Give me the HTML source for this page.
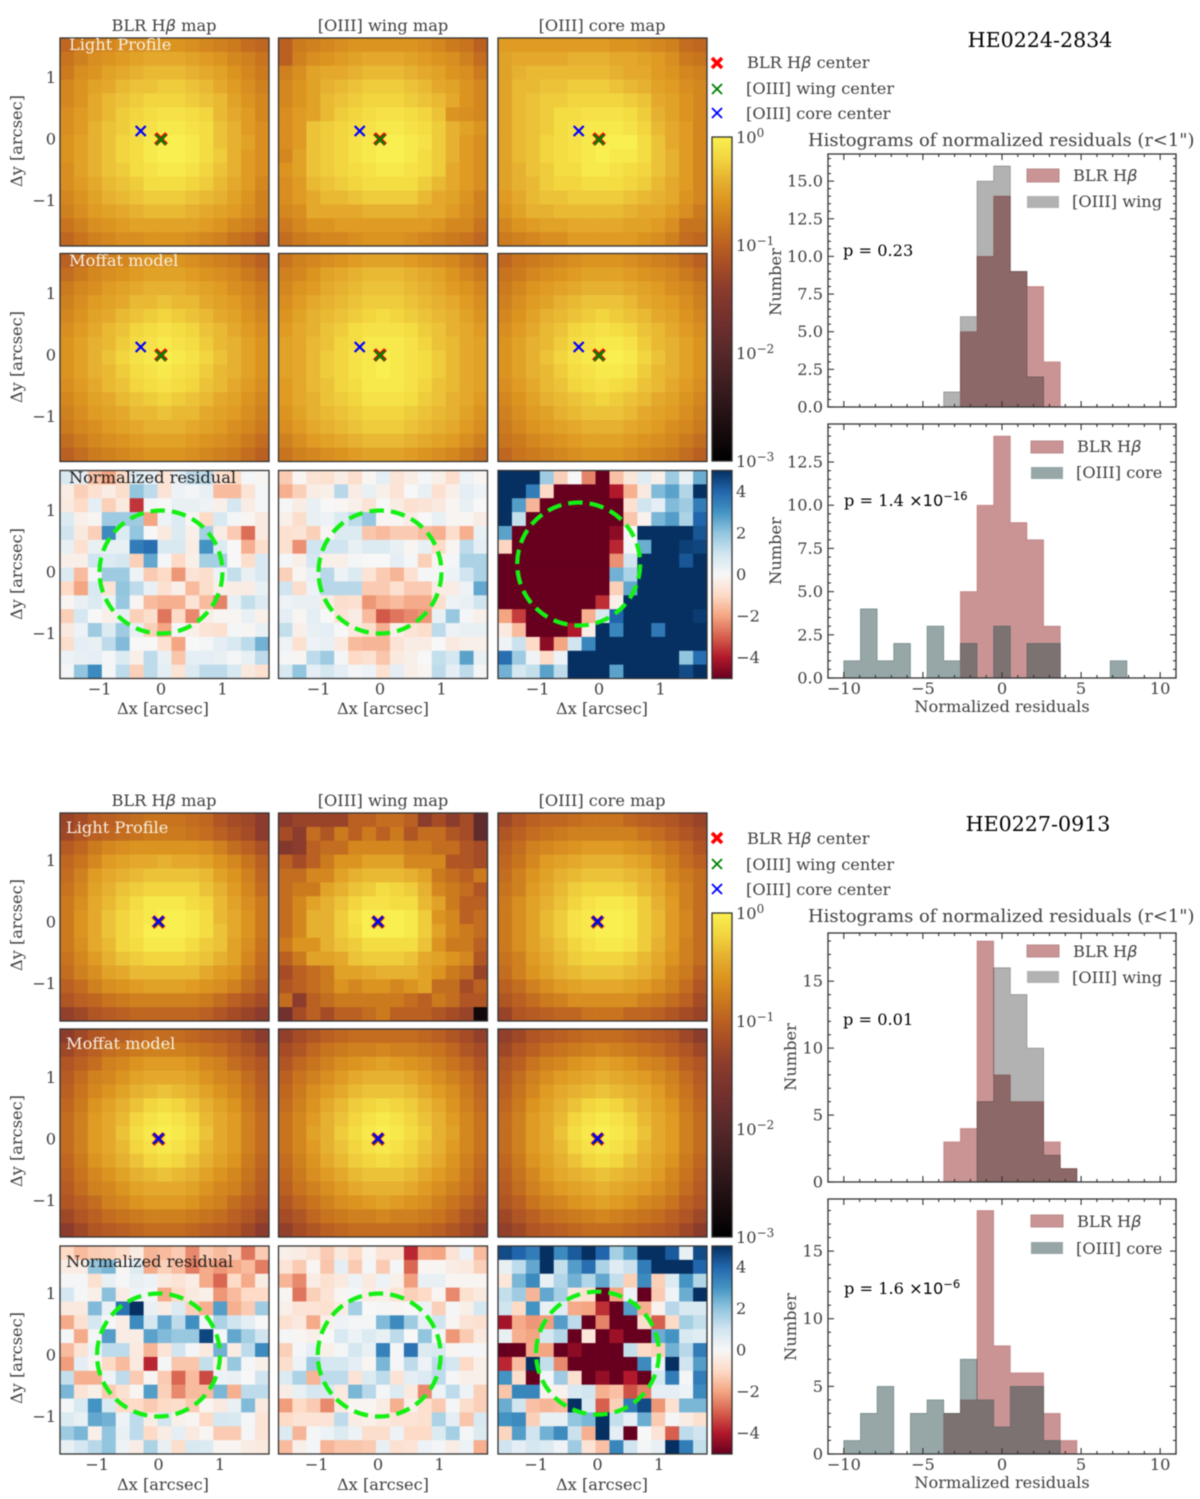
<!DOCTYPE html>
<html lang="en">
<head>
<meta charset="utf-8">
<title>HE0224-2834 and HE0227-0913 residual maps</title>
<style>
html,body{margin:0;padding:0;background:#fff;}
body{width:1200px;height:1499px;overflow:hidden;}
svg{display:block;filter:blur(.4px);}
text{font-family:"DejaVu Serif","Liberation Serif",serif;fill:#404040;font-size:16.2px;}
.b{fill:#000;}
.m{font-family:"DejaVu Sans","Liberation Sans",sans-serif;font-style:italic;}
</style>
</head>
<body>
<svg id="fig" xmlns="http://www.w3.org/2000/svg" width="1200" height="1499" viewBox="0 0 1200 1499">
<defs>
<linearGradient id="lightGrad" x1="0" y1="0" x2="0" y2="1"></linearGradient>
<linearGradient id="resGrad" x1="0" y1="0" x2="0" y2="1"></linearGradient>
</defs>
<g id="plots"></g>

<g text-anchor="middle">
<text x="164" y="31">BLR H<tspan class="m">β</tspan> map</text>
<text x="383" y="31">[OIII] wing map</text>
<text x="602" y="31">[OIII] core map</text>
</g>
<g text-anchor="middle">
<text x="164" y="806">BLR H<tspan class="m">β</tspan> map</text>
<text x="383" y="806">[OIII] wing map</text>
<text x="602" y="806">[OIII] core map</text>
</g>

<text class="b" x="1040" y="47" text-anchor="middle" style="font-size:20.6px">HE0224-2834</text>
<text class="b" x="1038" y="831" text-anchor="middle" style="font-size:20.6px">HE0227-0913</text>
<text x="808" y="146" style="font-size:17.9px">Histograms of normalized residuals (r&lt;1")</text>
<text x="808" y="922" style="font-size:17.9px">Histograms of normalized residuals (r&lt;1")</text>

<g>
<text x="69" y="50" style="fill:#f7efe2">Light Profile</text>
<text x="69" y="266" style="fill:#f7efe2">Moffat model</text>
<text x="69" y="483" style="fill:#222">Normalized residual</text>
<text x="66" y="833" style="fill:#f7efe2">Light Profile</text>
<text x="66" y="1049" style="fill:#f7efe2">Moffat model</text>
<text x="66" y="1267" style="fill:#222">Normalized residual</text>
</g>

<g text-anchor="middle">
<text transform="translate(22,141) rotate(-90)">Δy [arcsec]</text>
<text transform="translate(22,357) rotate(-90)">Δy [arcsec]</text>
<text transform="translate(22,574) rotate(-90)">Δy [arcsec]</text>
<text transform="translate(22,925) rotate(-90)">Δy [arcsec]</text>
<text transform="translate(22,1141) rotate(-90)">Δy [arcsec]</text>
<text transform="translate(22,1358) rotate(-90)">Δy [arcsec]</text>
<text x="163" y="714">Δx [arcsec]</text>
<text x="383" y="714">Δx [arcsec]</text>
<text x="602" y="714">Δx [arcsec]</text>
<text x="163" y="1490">Δx [arcsec]</text>
<text x="383" y="1490">Δx [arcsec]</text>
<text x="602" y="1490">Δx [arcsec]</text>
</g>

<g text-anchor="middle">
<text transform="translate(781,282) rotate(-90)">Number</text>
<text transform="translate(781,551) rotate(-90)">Number</text>
<text transform="translate(796,1057) rotate(-90)">Number</text>
<text transform="translate(796,1327) rotate(-90)">Number</text>
<text x="1002" y="712">Normalized residuals</text>
<text x="1002" y="1488">Normalized residuals</text>
</g>

<g>
<text class="b" x="843" y="256">p = 0.23</text>
<text class="b" x="844" y="506">p = 1.4 <tspan style="font-family:'DejaVu Sans',sans-serif">×10</tspan><tspan dy="-6" style="font-size:11.5px;font-family:'DejaVu Sans',sans-serif">−16</tspan></text>
<text class="b" x="843" y="1025">p = 0.01</text>
<text class="b" x="844" y="1294">p = 1.6 <tspan style="font-family:'DejaVu Sans',sans-serif">×10</tspan><tspan dy="-6" style="font-size:11.5px;font-family:'DejaVu Sans',sans-serif">−6</tspan></text>
</g>

<g>
<rect x="1027" y="169" width="32" height="13" fill="#ca9494" stroke="#b88a8a"/>
<text x="1073" y="181">BLR H<tspan class="m">β</tspan></text>
<rect x="1027" y="196" width="32" height="12" fill="#b2b2b2"/>
<text x="1072" y="207">[OIII] wing</text>
<rect x="1031" y="441" width="32" height="12" fill="#ca9494" stroke="#b88a8a"/>
<text x="1077" y="452">BLR H<tspan class="m">β</tspan></text>
<rect x="1031" y="467" width="32" height="12" fill="#97a7a7"/>
<text x="1076" y="478">[OIII] core</text>
<rect x="1027" y="945" width="32" height="12" fill="#ca9494" stroke="#b88a8a"/>
<text x="1073" y="957">BLR H<tspan class="m">β</tspan></text>
<rect x="1027" y="971" width="32" height="12" fill="#b2b2b2"/>
<text x="1072" y="983">[OIII] wing</text>
<rect x="1031" y="1215" width="32" height="12" fill="#ca9494" stroke="#b88a8a"/>
<text x="1077" y="1227">BLR H<tspan class="m">β</tspan></text>
<rect x="1031" y="1242" width="32" height="12" fill="#97a7a7"/>
<text x="1076" y="1254">[OIII] core</text>
</g>

<g>
<path d="M712 58l10 10M722 58l-10 10" stroke="#ff0000" stroke-width="3.6" fill="none"/>
<text x="747" y="68">BLR H<tspan class="m">β</tspan> center</text>
<path d="M712 84l10 10M722 84l-10 10" stroke="#008000" stroke-width="1.8" fill="none"/>
<text x="746" y="94">[OIII] wing center</text>
<path d="M712 108l10 10M722 108l-10 10" stroke="#0000ff" stroke-width="1.8" fill="none"/>
<text x="746" y="119">[OIII] core center</text>
</g>
<g>
<path d="M712 833l10 10M722 833l-10 10" stroke="#ff0000" stroke-width="3.6" fill="none"/>
<text x="747" y="844">BLR H<tspan class="m">β</tspan> center</text>
<path d="M712 859l10 10M722 859l-10 10" stroke="#008000" stroke-width="1.8" fill="none"/>
<text x="746" y="870">[OIII] wing center</text>
<path d="M712 884l10 10M722 884l-10 10" stroke="#0000ff" stroke-width="1.8" fill="none"/>
<text x="746" y="895">[OIII] core center</text>
</g>
</svg>

<script>
// ---------- light-map data: brightness in tenths of a dex below the peak ----------
const g1LightBlr=[
[9.5,8,7.5,7,6.5,6.5,6,6,6,6.5,7,7.5,8,9,9.5],
[8.5,7.5,6.5,6,5.5,5,4.5,4.5,4.5,5,5.5,6,7,7.5,8.5],
[8,6.5,6,5,4.5,4,3.5,3.5,3.5,4,4.5,5,6,7,8],
[7,6,5,4.5,3.5,3,3,2.5,2.5,3,3.5,4.5,5.5,6.5,7.5],
[7,6,4.5,3.5,3,2.5,2,2,2,2.5,3,3.5,5,6,7],
[6.5,5.5,4.5,3.5,2.5,2,1.5,1,1,1.5,2,3.5,4.5,5.5,7],
[6.5,5.5,4,3,2.5,1.5,1,.5,.5,1,1.5,3,4,5.5,6.5],
[6,5,4,3,2,1.5,.5,0,0,.5,1.5,3,4,5,6.5],
[6,5,4,3,2,1.5,.5,0,0,.5,1.5,2.5,4,5.5,6.5],
[6.5,5,4,3,2.5,1.5,1,.5,.5,1,2,3,4,5.5,6.5],
[6.5,5.5,4.5,3.5,3,2.5,1.5,1.5,1.5,2,2.5,3.5,4.5,5.5,7],
[7,6,5,4,3.5,3,2.5,2.5,2.5,3,3.5,4,5,6,7.5],
[7.5,6.5,5.5,5,4.5,4,3.5,3.5,3.5,4,4.5,5,5.5,6.5,7.5],
[8.5,7.5,6.5,6,5.5,5,5,5,5,5,5.5,6,7,7.5,8.5],
[9.5,8.5,7.5,7,6.5,6.5,6,6,6,6.5,7,7.5,8.5,9,10.5]];
const g1LightWing=[
[10,8,7.5,7,6.5,6,6,6,6,6,6.5,7,8,8.5,10],
[10,7.5,6.5,6,5.5,5,4.5,4.5,4.5,5,5.5,6,6.5,7.5,9],
[7.5,6.5,5,4.5,4.5,4,3.5,3.5,3.5,4,4.5,5,6,6.5,8],
[7,6,5,4,3.5,3,2.5,2.5,2.5,3,3.5,4.5,5,6,7],
[7,6,5,3.5,3,2.5,2,2,2,2.5,3,3.5,4.5,6,7],
[6.5,5.5,5,3.5,2.5,2,1.5,1,1,1.5,2,3,6,6.5,7],
[6.5,5.5,3,2.5,2,1.5,1,.5,.5,1,1.5,2.5,4,5,6],
[6.5,5.5,3,2.5,2,1,.5,0,0,.5,1,2.5,4,5.5,6.5],
[7,5,3,2.5,2,1,.5,0,0,.5,1.5,2.5,4,5.5,6.5],
[6,5,3,2.5,2,1.5,1,.5,.5,1,1.5,2.5,4.5,5.5,6.5],
[6.5,5.5,3.5,3,2.5,2,1.5,1.5,1.5,1.5,2.5,3.5,4.5,5.5,6.5],
[6.5,5.5,4.5,3.5,3.5,3,2.5,2.5,2.5,2.5,3.5,4.5,5,6,7.5],
[7,6.5,4.5,4.5,4.5,4.5,4,4,4,4,4.5,4.5,5.5,6.5,7.5],
[8,7,6,6,5.5,5.5,5.5,5.5,5.5,5.5,5.5,6,7,7,8.5],
[9,8,7.5,7,7,6.5,6,6,6,6.5,7,7.5,8,8.5,9.5]];
const g1LightCore=[
[5.5,5.5,5.5,5.5,5.5,5.5,5.5,5.5,6,6,6.5,7,7.5,9,9.5],
[5,4.5,4.5,4.5,4.5,4,4,4,4.5,4.5,5,5.5,6.5,8,8.5],
[5,4,3.5,3.5,3.5,3.5,3.5,3.5,4,4.5,4.5,5.5,6,7,7.5],
[5,3.5,3.5,3,3,2.5,2.5,2.5,3,3.5,4,5,5.5,6.5,7],
[5,3.5,3,2.5,2.5,2,2,2,2,2.5,3,4.5,5,6,7],
[5,3.5,3,2.5,1.5,1.5,1,1,1,1.5,2.5,4,5,6,7],
[5,3.5,3,2.5,1.5,1,.5,.5,.5,1,2,3.5,4.5,5.5,7],
[5,3.5,3,2,1.5,1,.5,0,0,0,1.5,3,4.5,5.5,7],
[5,3.5,3,2,1.5,1,.5,0,.5,.5,1.5,3,4,5.5,7],
[5,4,3,2.5,1.5,1.5,.5,.5,1,1.5,2,3,4,5.5,7],
[5,4,3.5,2.5,2,2,1.5,1.5,1.5,2,2.5,3.5,4.5,5.5,7],
[5.5,4.5,3.5,3,3,2.5,2.5,2.5,2.5,3,3.5,4,4.5,6,7],
[6,5,4,4,3.5,3.5,3.5,3.5,3.5,4,4.5,4.5,5.5,6.5,8],
[7,6,5.5,5,5,4.5,4.5,4.5,4.5,5,5,5.5,6.5,8.5,8.5],
[8,7.5,7,6.5,6.5,5.5,5.5,5.5,5.5,5.5,6,6.5,7.5,9,9.5]];
const g1ModelBlr=[
[10,9,8,7.5,7,6.5,6,6,6,6.5,7,7.5,8,9,10],
[9,8,7,6.5,6,5.5,5,5,5,5.5,6,6.5,7,8,9],
[8,7,6.5,5.5,5,4.5,4,4,4,4.5,5,5.5,6.5,7,8],
[7.5,6.5,5.5,5,4.5,3.5,3.5,3,3.5,3.5,4.5,5,5.5,6.5,7.5],
[7,6,5,4.5,3.5,3,2.5,2,2.5,3,3.5,4.5,5,6,7],
[6.5,5.5,4.5,3.5,3,2,1.5,1,1.5,2,3,3.5,4.5,5.5,6.5],
[6,5,4,3.5,2.5,1.5,1,.5,1,1.5,2.5,3.5,4,5,6],
[6,5,4,3,2,1,.5,0,.5,1,2,3,4,5,6],
[6,5,4,3.5,2.5,1.5,1,.5,1,1.5,2.5,3.5,4,5,6],
[6.5,5.5,4.5,3.5,3,2,1.5,1,1.5,2,3,3.5,4.5,5.5,6.5],
[7,6,5,4.5,3.5,3,2.5,2,2.5,3,3.5,4.5,5,6,7],
[7.5,6.5,5.5,5,4.5,3.5,3.5,3,3.5,3.5,4.5,5,5.5,6.5,7.5],
[8,7,6.5,5.5,5,4.5,4,4,4,4.5,5,5.5,6.5,7,8],
[9,8,7,6.5,6,5.5,5,5,5,5.5,6,6.5,7,8,9],
[10,9,8,7.5,7,6.5,6,6,6,6.5,7,7.5,8,9,10]];
const g1ModelWing=[
[8.5,7.5,7,6.5,6,5.5,5,5,5,5.5,6,6.5,7,8,9],
[7.5,7,6,5,4.5,4,3.5,3.5,3.5,4,4.5,5,6,7,8],
[7,6,5.5,4.5,4,3.5,3,3,3,3.5,4,4.5,5.5,6,7],
[6.5,5.5,4.5,4,3.5,3,2.5,2.5,2.5,3,3.5,4,4.5,5.5,6.5],
[6,5,4,3.5,3,2.5,2,1.5,2,2.5,3,3.5,4,5,6],
[5.5,4.5,4,3,2.5,1.5,1,1,1,1.5,2.5,3,4,4.5,5.5],
[5,4.5,3.5,3,2,1.5,.5,.5,.5,1,2,3,3.5,4.5,5],
[5,4.5,3.5,2.5,2,1,.5,0,.5,1,1.5,2.5,3.5,4.5,5],
[5,4.5,3.5,2.5,2,1,.5,0,.5,1,1.5,2.5,3.5,4.5,5],
[5.5,4.5,3.5,3,2,1.5,.5,.5,.5,1,2,3,3.5,4.5,5],
[5.5,4.5,4,3,2.5,2,1,1,1,1.5,2.5,3,4,4.5,5.5],
[6,5,4,3.5,3,2.5,2,2,2,2.5,3,3.5,4,5,6],
[6.5,5.5,4.5,4,3.5,3,2.5,2.5,2.5,3,3.5,4,4.5,5.5,6.5],
[7.5,6.5,5.5,5,4.5,4,3.5,3.5,3.5,4,4.5,5,5.5,6.5,7.5],
[8.5,7.5,7,6.5,6,5.5,5,5,5,5.5,6,6.5,7,8,9]];
const g1ModelCore=[
[9.5,8.5,8,7.5,7,6.5,6,6,6,6.5,7,7.5,8,9,10],
[8.5,8,7,6.5,6,5.5,5,5,5,5.5,6,6.5,7,8,9],
[8,7,6,5.5,5,4.5,4,4,4,4.5,5,5.5,6.5,7,8],
[7.5,6.5,5.5,5,4,3.5,3,3,3,3.5,4.5,5,5.5,6.5,7.5],
[7,6,5,4,3.5,3,2.5,2,2.5,3,3.5,4.5,5,6,7],
[6.5,5.5,4.5,3.5,3,2,1.5,1,1.5,2,3,3.5,4.5,5.5,6.5],
[6,5,4,3.5,2.5,1.5,1,.5,.5,1,2.5,3.5,4,5,6],
[6,5,4,3,2,1,.5,0,0,.5,2,3,4,5,6],
[6,5,4,3.5,2.5,1.5,1,.5,.5,1,2.5,3.5,4,5,6],
[6.5,5.5,4.5,3.5,3,2,1.5,1,1.5,2,3,3.5,4.5,5.5,6.5],
[7,6,5,4,3.5,3,2.5,2,2.5,3,3.5,4.5,5,6,7],
[7.5,6.5,5.5,5,4,3.5,3,3,3,3.5,4.5,5,5.5,6.5,7.5],
[8,7,6,5.5,5,4.5,4,4,4,4.5,5,5.5,6.5,7,8],
[8.5,8,7,6.5,6,5.5,5,5,5,5.5,6,6.5,7,8,9],
[9.5,8.5,8,7.5,7,6.5,6,6,6,6.5,7,7.5,8,9,10]];
const g2LightBlr=[
[13,12,10.5,10,9.5,9,8.5,8.5,8.5,9,9.5,11,12,12.5,14],
[12.5,11,10,9.5,9,8.5,8,8,8,8.5,9,10,11,12,14],
[10.5,9.5,8,7,6.5,6,6,6,6,6,6.5,7.5,9,10,11.5],
[9.5,8.5,7,5.5,5,4.5,4.5,4,4.5,4.5,5,6,7,8.5,10],
[9,7.5,5.5,4.5,4,3.5,3,3,3,3,3.5,5,6,7.5,9.5],
[8.5,7,5,4,3,2.5,2,2,2,2,3,4,5.5,7,9],
[8,6.5,4.5,3.5,2.5,1.5,.5,.5,.5,1.5,2,3.5,5,6.5,8],
[8,6,4.5,3,2,1,.5,0,0,.5,1.5,3.5,4.5,6,8],
[8,6,4.5,3,2,1,0,0,0,.5,1.5,3,4.5,6,8],
[8,6.5,4.5,3.5,2,1.5,.5,.5,.5,1.5,2.5,3,5,6.5,8.5],
[8.5,7,5.5,4,3,2.5,2,2,2,2.5,3,4,5,7,9],
[9,7.5,6.5,5,4.5,3.5,3.5,3.5,3.5,3.5,4.5,5.5,6,8,9.5],
[10,9,7.5,6.5,6,5.5,5,5,5,5.5,6,6.5,7.5,9,10.5],
[11,10,9.5,8.5,8,7.5,7.5,7.5,7.5,7.5,8,9,10,11,12],
[13.5,12.5,11,10.5,10,9.5,9.5,9.5,9.5,9.5,10,11,12,13,14]];
const g2LightWing=[
[14,13,13,13,13,10,10,9,9,10,14,12,14,12,19],
[12,14,9,11,8,10,8,10,8,11,9,9,11,12,19],
[15,14,10,9,9,7,7,7,7,8,8,9,9,11,12],
[10,12,10,8,6,6,5,5,5,7,7,7,11,11,12],
[9,9,7,7,5,4,3.5,3.5,3.5,4,5,8,9,10,8],
[9,8,8,5,4,3,2.5,1.5,2,2.5,4,7,8,9,11],
[9,7,5,4,3,2,1,1,1.5,1.5,3.5,5,8,10,10],
[9,7,4,4,2.5,1,0,0,0,.5,2.5,6,7,10,9],
[9,7,4,4,2.5,1.5,0,0,0,.5,2.5,5,7,8,9],
[8,6,6,4,3,2.5,1.5,1.5,1.5,1.5,3,6,8,8,10],
[10,8,5,5,4.5,3,2.5,2.5,2.5,3,4.5,5,6,7,11],
[12,10,9,8,5,5,4.5,4,4,4,5,6,8,9,13],
[11,10,9,8,6,7,6,6,7,6,5,9,9,12,10],
[9,14,10,9,8,8,8,8,8,9,10,8,9,11,11],
[17,12,10,12,10,10,9,8,10,10,10,11,12,13,28]];
const g2LightCore=[
[12.5,11,10,9.5,9.5,9,8.5,8.5,8.5,9.5,10,10.5,11,12,13],
[11,10,9,8.5,8,7.5,7.5,7.5,7.5,7.5,8.5,9,10,11,12],
[10,9,7.5,7,6.5,6,5.5,5.5,5.5,6,6.5,7.5,8.5,9.5,11],
[9.5,8.5,7,5.5,5,4.5,4,4,4,4.5,5,6.5,7.5,9,10],
[9,7.5,6,5,4,3.5,3,3,3,3.5,4,5,7,8,9],
[8.5,7.5,5.5,4.5,3.5,2.5,2,2,2,2.5,3.5,4.5,6,7.5,9],
[8,6.5,5,4,3,2,1,.5,.5,1,2.5,4,5.5,7.5,9],
[8,6.5,5,3.5,2.5,1,.5,0,0,.5,2.5,3.5,5.5,7,9],
[8,6.5,5,3.5,2.5,1,.5,0,0,.5,2.5,3.5,5.5,7,9],
[8,6.5,5,4,3,2,1,.5,.5,1,2.5,4,5.5,7.5,9],
[8.5,7.5,5.5,4.5,3.5,2.5,2,2,2,2.5,3.5,4.5,6,7.5,9],
[9,7.5,6,5,4,3.5,3,3,3,3.5,4,5,7,8,10],
[10,9,7.5,6.5,5.5,5,4.5,4.5,4.5,5,5.5,6.5,7.5,9,11],
[11,10,9,8,7.5,6.5,6.5,6.5,6.5,6.5,7.5,8,9,10,12],
[13,11,10.5,10,9.5,9.5,8.5,8.5,8.5,9.5,9.5,10,11,12,13]];
const g2ModelBlr=[
[14,12.5,11,10.5,10,9.5,9,9,9,9.5,10,10.5,11,12.5,14],
[12.5,11,10,9,8.5,8,7.5,7.5,7.5,8,8.5,9,10,11,12.5],
[11,10,9,7.5,7,6,5.5,5.5,5.5,6,7,7.5,9,10,11],
[10.5,9,7.5,7,6,5,4.5,4.5,4.5,5,6,7,7.5,9,10.5],
[10,8.5,7,6,5,4,3.5,3,3.5,4,5,6,7,8.5,10],
[9.5,8,6,5,4,3,2,1.5,2,3,4,5,6,8,9.5],
[9,7.5,5.5,4.5,3.5,2,1,.5,1,2,3.5,4.5,5.5,7.5,9],
[9,7.5,5.5,4.5,3,1.5,.5,0,.5,1.5,3,4.5,5.5,7.5,9],
[9,7.5,5.5,4.5,3.5,2,1,.5,1,2,3.5,4.5,5.5,7.5,9],
[9.5,8,6,5,4,3,2,1.5,2,3,4,5,6,8,9.5],
[10,8.5,7,6,5,4,3.5,3,3.5,4,5,6,7,8.5,10],
[10.5,9,7.5,7,6,5,4.5,4.5,4.5,5,6,7,7.5,9,10.5],
[11,10,9,7.5,7,6,5.5,5.5,5.5,6,7,7.5,9,10,11],
[12.5,11,10,9,8.5,8,7.5,7.5,7.5,8,8.5,9,10,11,12.5],
[14,12.5,11,10.5,10,9.5,9,9,9,9.5,10,10.5,11,12.5,14]];
const g2ModelWing=[
[13.5,12,11,10,9.5,9,9,9,9,9,9.5,10,11,12,13.5],
[12,11,9.5,8.5,8,7.5,7.5,7,7.5,7.5,8,8.5,9.5,11,12],
[11,9.5,8.5,7.5,6.5,6,5.5,5,5.5,6,6.5,7.5,8.5,9.5,11],
[10,8.5,7.5,6.5,5.5,4.5,4,4,4,4.5,5.5,6.5,7.5,8.5,10],
[9.5,8,6.5,5.5,4.5,3.5,3,3,3,3.5,4.5,5.5,6.5,8,9.5],
[9,7.5,6,4.5,3.5,2.5,2,1.5,2,2.5,3.5,4.5,6,7.5,9],
[8.5,7,5.5,4,3,2,1,.5,1,2,3,4,5.5,7,8.5],
[8.5,7,5,4,2.5,1.5,.5,0,.5,1.5,2.5,4,5,7,8.5],
[8.5,7,5.5,4,3,2,1,.5,1,2,3,4,5.5,7,8.5],
[9,7.5,6,4.5,3.5,2.5,2,1.5,2,2.5,3.5,4.5,6,7.5,9],
[9.5,8,6.5,5.5,4.5,3.5,3,3,3,3.5,4.5,5.5,6.5,8,9.5],
[10,8.5,7.5,6.5,5.5,4.5,4,4,4,4.5,5.5,6.5,7.5,8.5,10],
[11,9.5,8.5,7.5,6.5,6,5.5,5,5.5,6,6.5,7.5,8.5,9.5,11],
[12,11,9.5,8.5,8,7.5,7.5,7,7.5,7.5,8,8.5,9.5,11,12],
[13.5,12,11,10,9.5,9,9,9,9,9,9.5,10,11,12,13.5]];
const g2ModelCore=[
[13.5,12.5,11,10.5,10,9.5,9,9,9,9.5,10,10.5,11,12.5,14],
[12.5,11,10,9,8.5,8,7.5,7,7.5,8,8.5,9,10,11,12.5],
[11,10,8.5,7.5,7,6,5.5,5,5.5,6,7,7.5,8.5,10,11],
[10.5,9,7.5,6.5,5.5,5,4.5,4,4.5,5,5.5,6.5,7.5,9,10.5],
[10,8.5,7,5.5,4.5,4,3.5,3,3.5,4,4.5,5.5,7,8.5,10],
[9.5,8,6,5,4,3,2,1.5,2,3,4,5,6,8,9.5],
[9,7.5,5.5,4.5,3.5,2,1,.5,1,2,3.5,4.5,5.5,7.5,9],
[9,7.5,5.5,4.5,3,1.5,.5,0,.5,1.5,3,4.5,5.5,7.5,9],
[9,7.5,5.5,4.5,3.5,2,1,.5,1,2,3.5,4.5,5.5,7.5,9],
[9.5,8,6,5,4,3,2,1.5,2,3,4,5,6,8,9.5],
[10,8.5,7,5.5,4.5,4,3.5,3,3.5,4,4.5,5.5,7,8.5,10],
[10.5,9,7.5,6.5,5.5,5,4.5,4,4.5,5,5.5,6.5,7.5,9,10.5],
[11,10,8.5,7.5,7,6,5.5,5,5.5,6,7,7.5,8.5,10,11],
[12.5,11,10,9,8.5,8,7.5,7,7.5,8,8.5,9,10,11,12.5],
[13.5,12.5,11,10.5,10,9.5,9,9,9,9.5,10,10.5,11,12.5,14]];

// ---------- normalized residual maps ----------
const g1ResBlr=[
[.8,.5,-1.5,-2,-1,.7,.5,-.7,.4,1.3,1.3,-.8,-1,.1,-.1],
[-.4,-1.2,-.8,-.4,-.9,2,1.3,-.7,.3,.1,.4,-1.6,-1.6,-.7,.1],
[-.5,-1,.5,-1.2,-.5,-3.6,.1,0,.4,.4,.3,-.3,.9,-.4,.1],
[.7,-.3,-.1,1.8,1.8,1.8,-2,.3,.7,-.1,-1,.8,.1,-.1,-.5],
[1,-.5,-1.2,3.2,.7,2,0,-.5,.7,-.3,1.7,-.4,-1.3,-2.8,-.5],
[.4,-.8,.4,.4,.4,3.5,3.8,.8,.8,-.4,3,.7,0,-1.8,-.9],
[-.3,-.3,1,.7,.9,-1.2,2.6,.1,-1,-.3,1.7,1.7,0,-.9,.8],
[.7,-1.6,.1,1.8,1.8,.3,-1.3,-1,-2.2,-.7,-.9,.3,1.2,.4,.8],
[-1,-2,.8,-.7,2,1.3,.4,-.8,-.3,-1.6,-.9,-.3,-.4,-.4,.4],
[-.1,.4,.7,.3,1.9,-.1,-1.6,-1.8,-1.8,-.7,-1.6,-2.5,.4,1.2,.7],
[-1.2,.9,0,-.3,.4,-1.2,-.9,-2.7,-1,-2.4,-.4,-.1,-.1,.4,-.3],
[-.5,.3,1.8,.7,1.8,.4,-1.2,-2,.1,-.3,-.7,-.8,.1,-.1,.4],
[-.9,.5,.4,1.3,2.2,0,0,-.8,-2,0,.1,.5,.8,1.3,2.4],
[.3,.4,.5,.1,.7,-.3,1.3,.4,-1.4,.5,.5,.4,.1,.4,1.3],
[.1,2,3.2,.1,1.3,-1.2,1.3,.5,-.7,.7,1.3,1.3,.8,-.5,-.8]];
const g1ResWing=[
[-1.3,-.1,-.7,-.8,-.4,-.9,-.1,.5,-.7,-.4,.1,-.3,-.9,.3,-.1],
[-1.8,-1.2,-.4,-.3,1.4,-.4,.4,-.3,-.7,0,.4,-.8,-.3,.5,.3],
[.1,-.4,.4,0,-.1,-.3,-.7,0,-.4,-.8,-.7,-.5,-.1,.4,0],
[-.3,-.9,.4,.3,.7,1.3,1.9,-.1,-.1,-.4,0,.4,-.1,-.1,-.4],
[-.8,-.7,-1.2,-.1,.7,.7,-1.4,-1.6,-1.3,-1.3,-1.6,-1.8,-.9,-1.8,.4],
[-.8,-2.3,1,1,1,.4,.7,.7,.4,-.1,.4,-1,-.1,1.3,.5],
[.1,-.3,.9,-.3,-.3,.1,0,0,.5,.1,-1.2,-.1,.1,1.6,1.6],
[-1.2,-.1,.4,1.4,.3,.7,-.7,-1.3,-1.7,-.8,.1,.1,.3,1,1.6],
[1,-.9,.3,1.4,1.4,1.4,-1.3,-1.3,-.8,-1.3,-1.3,-.4,-.4,.3,2.6],
[.3,.4,.4,-.4,-.9,-.8,-2.2,-1.8,-1.6,-1.9,-1.9,-.9,.3,.4,1],
[.5,-.1,.5,0,-.7,-.4,-1.6,-3.1,-2.7,-2.4,-2.2,.4,1.9,.1,-.3],
[1.2,-.3,.4,.5,0,-.5,-.9,-1.8,-.3,-.7,-.9,1.3,.3,.4,.4],
[.3,-.8,.3,.4,-.5,-1.6,-1.7,-1.7,-.7,-.4,-.4,0,-.5,-.3,-.3],
[.1,-.1,1.3,1.8,.1,-1,-.8,-1.4,-.5,-.3,0,1.2,.9,2.7,.4],
[.8,2,.5,.9,.5,.1,.3,-.8,.5,-.3,-.1,1.3,.5,1.3,.1]];
const g1ResCore=[
[5,5,5,1.8,-1.2,0,-2.5,-5,-1.5,-.6,.6,-.3,1.8,.4,2.5],
[5,5,3.5,-1,-5,-5,-5,-5,-4,-1.8,-.5,2.2,2.7,1.5,5],
[5,2.8,-1.7,-5,-5,-5,-5,-5,-5,-.8,1,.5,2.2,1.8,3.5],
[5,1.2,-5,-5,-5,-5,-5,-5,-5,-1.4,-.2,2.3,2.8,1.6,4],
[2.7,-5,-5,-5,-5,-5,-5,-5,-4.5,0,5,5,5,5,4.3],
[-1.1,-5,-5,-5,-5,-5,-5,-5,-3.8,.1,2.5,5,5,4.7,4.6],
[-5,-5,-5,-5,-5,-5,-5,-5,-2.3,1,5,5,5,4.3,5],
[-5,-5,-5,-5,-5,-5,-5,-5,2.4,1.6,5,5,5,5,5],
[-5,-5,-5,-5,-5,-5,-5,-5,-1.2,2.6,5,5,5,5,5],
[-5,-5,-5,-5,-5,-5,-5,-3.7,-.3,5,5,5,5,5,5],
[-2,-3.5,-5,-5,-5,-5,-1.8,.8,4,5,5,5,5,5,4.8],
[-.5,-1.6,-5,-5,-5,-4,-.4,5,3.3,5,5,3.6,5,5,5],
[.2,1.1,-1,-4.5,-2,1,3.3,5,5,5,5,5,5,5,5],
[3.8,1.8,.2,-1,.3,5,5,5,5,5,5,5,5,2,3.8],
[2.4,.9,1.2,2.7,1.3,5,5,5,2.7,5,5,5,5,4.5,5]];
const g2ResBlr=[
[-1,-1.6,-1.3,-1.2,-1,-.4,-1.7,-1.6,-1.3,-2.4,-1.3,-1.6,-1.3,-2.7,-1.3],
[-.4,-.4,2,2.3,-.1,.7,-1.9,-1.2,-1.6,-2.6,-1.9,-2.2,-1.9,-1.6,-2.6],
[.1,.1,-.8,.4,.1,.4,.3,-.5,-.7,-.4,-1.9,-2.9,-1,-1.9,-.4],
[.9,.1,-.3,2.1,-.4,.3,.1,-1.9,-1,-.5,-.3,-2.2,-1.6,-1,-1],
[-.5,-.5,2.2,.4,3.7,5,.4,-.4,.7,-1.2,-1.8,2.8,-1.8,-1.3,1.8],
[-1.9,-.8,.9,.1,-.4,3.2,.9,2.6,1.3,3.1,.1,1.6,1,.5,0],
[.1,-1.9,.1,2.8,-.4,-.4,2.7,2.2,1.9,1.9,4.6,.1,2.6,1.7,1],
[-1.6,-.7,.3,1.3,1.3,-.5,-1.7,-.7,1,.1,-.5,2.4,-.4,1.3,3.2],
[-2.1,.5,-.1,-1,-1.6,-.5,-3.8,.1,-1.4,-1.4,1.2,-.3,1.9,.1,-.3],
[1.2,-1.8,-1.8,.3,1.3,-1.3,-.1,-1.3,-2.9,-1.6,-3.3,.3,.4,0,1],
[2.3,-.7,-.3,-1.3,-.8,-.1,2.8,-1.2,-2.4,-1.6,-1.6,2.3,-1.8,1.3,1.3],
[.1,.8,3,.8,-1,-1,-1.3,-1,-.9,-1.3,-.1,-.5,.4,2.2,-.5],
[.7,.4,2.6,2.4,.3,1.3,-.4,1,-.3,-.1,-1,.9,.8,.1,-.7],
[1.8,2.3,-.3,2,.4,1.3,-1,-.4,.5,-.5,-.1,-1.3,-1.3,.1,-.7],
[.4,.9,1.4,2,.3,-.4,1.6,.4,-.9,.8,.7,-.1,-.1,-.4,-.5]];
const g2ResWing=[
[-.3,-.4,-.7,-1.3,-.5,-1,-.1,-.7,-.7,-3.8,-1.9,-2,-.7,.3,-1.6],
[-.7,-1.3,-.1,-1.4,.5,-1.3,.1,-1.3,.1,-2.9,-.1,-.1,-.4,-.5,-1.2],
[-1.7,-2.4,-.4,-.8,-.5,.3,-.5,.3,-.3,-2.1,.4,.4,-.1,-.1,-.1],
[-.1,-2.7,-1.2,-.7,-.1,.1,-.4,-.3,-.7,-1.2,-1,-.1,-2.4,-.8,-.5],
[-.3,-.7,-.7,-.8,-.4,1.7,0,.1,-.1,0,.3,-1.2,.1,-.3,.9],
[-.8,-.5,-1.9,-.3,.3,.1,.1,2.2,3.2,1.8,.4,1,-.1,-.7,-.8],
[.1,-.1,-.3,0,.8,.3,.7,.4,1.3,0,2,.1,-2.2,-1.3,-.5],
[-1.2,.1,.5,-.3,.1,.9,.4,3.4,.1,3.7,.7,.8,-.1,.1,.1],
[-.9,.3,1.8,.9,.9,.5,-.1,2.3,.1,1.3,.3,1.3,.9,-1,-.3],
[.7,1.6,-1.7,1.3,1.3,-.7,.7,1.3,-.7,.5,.7,1.3,.1,-.3,-.3],
[-.4,.4,.9,.8,-.5,2.3,1.4,.1,.7,-.5,-2.4,.3,1.3,.3,-1.2],
[-2.1,-1,-1.3,-2.4,-.5,-.1,-.1,-.4,-1.8,-.3,-.8,-1.3,.1,-.9,-1.2],
[-1,-.7,-.7,-.7,1.3,-.4,-.3,-.5,-.7,-.7,-.8,1.6,.5,-1.4,.8],
[.7,-1.7,.1,.3,.7,.3,-.9,-.9,.3,-1,-1,.7,1.7,.1,.7],
[-1.6,-.3,.1,-1.7,-1.4,-1.4,-1.3,.4,-.8,-.7,.3,.1,-.4,.3,-1.8]];
const g2ResCore=[
[4.5,4,3.5,5,3.2,4.2,5,4,1.7,2.7,5,5,4.2,.4,4.5],
[.4,1.3,2.6,5,1.2,2.8,3.8,1.6,.6,1.1,3.5,5,5,5,4],
[-.6,2.3,3.2,.4,1.5,2.4,1.5,2.6,1.2,-1.2,3.2,-1.2,.7,3,1.5],
[1.2,1.8,-1.7,2.6,1.7,-.6,-.8,-5,-2,.3,-5,-1.3,.2,2.5,5],
[1,-1,3,.4,.6,-1.9,-2,-3.7,-5,2.8,-1.8,-.2,1.4,.8,.8],
[-4.2,-1.9,-2.2,-2.1,2.8,1.3,-5,-2.5,-5,-5,-.9,-3,-1,1.7,1.2],
[.4,-1.8,-2,.9,1.5,-5,-.6,-5,-4.3,-5,-5,2.5,3,.8,.6],
[-5,-5,-1.9,-2,-5,-4.5,-5,-5,-5,1.2,-1,-1.2,2.4,1.4,3.5],
[-3.8,-1.6,5,1.2,-2.4,-5,-5,-5,-5,-5,3.2,.3,5,1,2.8],
[3,-.9,-5,.1,1.8,-.8,-5,-4.4,-5,-4,-5,.9,3.5,.1,3.5],
[-1.4,3.3,3.3,-.2,-.2,.8,1,-1.8,-1.5,-3.2,-2.5,.5,.5,.3,3.2],
[2.5,1,-1.5,-1.7,-1.6,5,.8,-3,-1.2,3.5,4.5,-2.2,-.8,2.3,2.3],
[3,3.2,-1.2,.4,.4,2,2.3,5,1.2,.5,2.5,-1.3,.1,-.4,-.8],
[-1.1,2.8,1,2.4,3.2,1.1,-1.8,5,.5,-5,0,-.7,-3,1.3,1],
[1,.5,.9,.7,.2,1.8,-.7,-1.5,3.3,1,.1,.4,5,3.5,1.2]];

// ---------- center positions (arcsec) and apertures ----------
const g1Blr=[0,0];
const g1Wing=[0,-.01];
const g1Core=[-.33,.13];
const g2Blr=[0,0];
const g2Wing=[0,0];
const g2Core=[0,.01];
const apertureRadius=1;

// ---------- histogram counts per bin ----------
const g1HistBlr=[0,0,0,0,0,0,0,5,10,14,9,8,3,0,0,0,0,0,0];
const g1HistWing=[0,0,0,0,0,0,1,6,15,16,9,2,0,0,0,0,0,0,0];
const g1HistCore=[1,4,1,2,0,3,1,2,0,3,0,2,2,0,0,0,1,0,0];
const g2HistBlr=[0,0,0,0,0,0,3,4,18,8,6,6,3,1,0,0,0,0,0];
const g2HistWing=[0,0,0,0,0,0,0,0,6,16,14,10,2,1,0,0,0,0,0];
const g2HistCore=[1,3,5,0,3,4,3,7,4,2,5,5,1,0,0,0,0,0,0];

// ---------- tick labels ----------
const mapTicks=[-1,0,1];
const histXTicks=[-10,-5,0,5,10];
const g1TopYTicks=[0,2.5,5,7.5,10,12.5,15];
const g1BottomYTicks=[0,2.5,5,7.5,10,12.5];
const g2YTicks=[0,5,10,15];
const lightBarTicks=[0,-1,-2,-3];
const resBarTicks=[-4,-2,0,2,4];

// ---------- colour scales ----------
const lightRamp=[[0,'#f9ef50'],[2,'#f2d53f'],[4,'#e6b030'],[6,'#dc9420'],[8,'#cc7a1e'],[10,'#ba6022'],[12,'#a54c26'],[14,'#8c3c2c'],[17,'#72302e'],[20,'#56282a'],[25,'#2a1518'],[30,'#000000']];
const resRamp=[[-5,'#67001f'],[-4,'#b2182b'],[-3,'#d6604d'],[-2,'#f4a582'],[-1,'#fddbc7'],[0,'#f7f7f7'],[1,'#d1e5f0'],[2,'#92c5de'],[3,'#4393c3'],[4,'#2166ac'],[5,'#053061']];

const NS='http://www.w3.org/2000/svg';
const plots=document.getElementById('plots');
function mk(tag,attrs,parent){
  const e=document.createElementNS(NS,tag);
  for(const k in attrs){e.setAttribute(k,attrs[k]);}
  parent.appendChild(e);
  return e;
}
function hex(c){return [1,3,5].map(i=>parseInt(c.substr(i,2),16));}
function rampColor(ramp,v){
  if(v<=ramp[0][0])return ramp[0][1];
  for(let i=1;i<ramp.length;i++){
    if(v<=ramp[i][0]){
      const t=(v-ramp[i-1][0])/(ramp[i][0]-ramp[i-1][0]);
      const a=hex(ramp[i-1][1]),b=hex(ramp[i][1]);
      return 'rgb('+a.map((x,j)=>Math.round(x+(b[j]-x)*t)).join(',')+')';
    }
  }
  return ramp[ramp.length-1][1];
}
function fmtMinus(v,dec){
  const s=Math.abs(v).toFixed(dec);
  return (v<0?'\u2212':'')+s;
}

// gradients for the colour bars
const lg=document.getElementById('lightGrad');
lightRamp.forEach(s=>{mk('stop',{offset:s[0]/30,'stop-color':s[1]},lg);});
const rg=document.getElementById('resGrad');
resRamp.slice().reverse().forEach(s=>{mk('stop',{offset:(5-s[0])/10,'stop-color':s[1]},rg);});

const SCALE=61.5;
const N=15;

function drawFrame(parent,x,y,w,h){
  const f=mk('rect',{x:x,y:y,width:w,height:h,fill:'none',stroke:'#333','stroke-width':1.3},parent);
  
  
}
function drawCross(parent,px,py,r,color,sw,name){
  const p=mk('path',{d:'M'+(px-r)+' '+(py-r)+'l'+(2*r)+' '+(2*r)+'M'+(px+r)+' '+(py-r)+'l'+(-2*r)+' '+(2*r),stroke:color,'stroke-width':sw,fill:'none'},parent);
  
  
}
function drawMap(o){
  const g=mk('g',{},plots);
  
  
  const cw=o.w/N,ch=o.h/N;
  for(let r=0;r<N;r++){
    for(let c=0;c<N;c++){
      const val=o.grid[r][c];
      const cell=mk('rect',{x:(o.x+c*cw).toFixed(2),y:(o.y+r*ch).toFixed(2),width:(cw+.4).toFixed(2),height:(ch+.4).toFixed(2),fill:rampColor(o.ramp,val)},g);
      
      
    }
  }
  const sx=v=>o.x+o.x0+v*SCALE;
  const sy=v=>o.y+o.y0-v*SCALE;
  if(o.centers){
    drawCross(g,sx(o.centers.blr[0]),sy(o.centers.blr[1]),5.5,'#ff0000',4,'blr-center-marker');
    drawCross(g,sx(o.centers.wing[0]),sy(o.centers.wing[1]),5,'#008000',2.4,'wing-center-marker');
    drawCross(g,sx(o.centers.core[0]),sy(o.centers.core[1]),5,'#0000ff',2.2,'core-center-marker');
  }
  if(o.circle){
    const a=mk('circle',{cx:sx(o.circle[0]),cy:sy(o.circle[1]),r:apertureRadius*SCALE,fill:'none',stroke:'#14f014','stroke-width':4.2,'stroke-dasharray':'14.5 7','transform':'rotate(180 '+sx(o.circle[0])+' '+sy(o.circle[1])+')'},g);
    
    
  }
  drawFrame(g,o.x,o.y,o.w,o.h);
  if(o.yLabels){
    mapTicks.forEach(t=>{
      const lab=mk('text',{x:o.x-4,y:sy(t)+5.5,'text-anchor':'end'},g);
      lab.textContent=fmtMinus(t,0);
      
      
    });
  }
  if(o.xLabels){
    mapTicks.forEach(t=>{
      const lab=mk('text',{x:sx(t),y:o.y+o.h+16,'text-anchor':'middle'},g);
      lab.textContent=fmtMinus(t,0);
      
      
    });
  }
}
function drawLightBar(x,y,w,h){
  const g=mk('g',{},plots);
  
  
  const bar=mk('rect',{x:x,y:y,width:w,height:h,fill:'url(#lightGrad)',stroke:'#333','stroke-width':1.3},g);
  
  
  lightBarTicks.forEach(t=>{
    const py=y+(-t/3)*h;
    const lab=mk('text',{x:x+w+4,y:py+6},g);
    
    
    const a=mk('tspan',{},lab);a.textContent='10';
    const b=mk('tspan',{dy:-6,style:'font-size:12px'},lab);b.textContent=fmtMinus(t,0);
  });
}
function drawResBar(x,y,w,h){
  const g=mk('g',{},plots);
  
  
  const bar=mk('rect',{x:x,y:y,width:w,height:h,fill:'url(#resGrad)',stroke:'#333','stroke-width':1.3},g);
  
  
  resBarTicks.forEach(t=>{
    const py=y+(5-t)/10*h;
    const lab=mk('text',{x:x+w+4,y:py+5.5},g);
    lab.textContent=fmtMinus(t,0);
    
    
  });
}

// histogram
const BIN_START=-10, BIN_WIDTH=20/19;
function stepPath(counts,sx,sy){
  let d='';
  let open=false;
  counts.forEach((n,i)=>{
    const x0=sx(BIN_START+i*BIN_WIDTH),x1=sx(BIN_START+(i+1)*BIN_WIDTH);
    if(n>0){
      if(!open){d+='M'+x0.toFixed(2)+' '+sy(0).toFixed(2);open=true;}
      d+='L'+x0.toFixed(2)+' '+sy(n).toFixed(2)+'L'+x1.toFixed(2)+' '+sy(n).toFixed(2);
      if(i===counts.length-1||counts[i+1]===0){d+='L'+x1.toFixed(2)+' '+sy(0).toFixed(2)+'Z';open=false;}
    }
  });
  return d;
}
function drawHist(o){
  const g=mk('g',{},plots);
  
  
  const xMin=-11,xMax=11;
  const sx=v=>o.x+(v-xMin)/(xMax-xMin)*o.w;
  const sy=v=>o.y+o.h-v/o.yMax*o.h;

  const a=mk('path',{d:stepPath(o.first,sx,sy),fill:'rgba(128,0,0,.42)',stroke:'rgba(128,0,0,.22)','stroke-width':1.1},g);
  
  
  const b=mk('path',{d:stepPath(o.second,sx,sy),fill:o.fill,stroke:o.fill,'stroke-width':.8},g);
  
  

  const ticks=mk('g',{stroke:'#333','stroke-width':1.1},g);
  
  
  const seg=(x1,y1,x2,y2)=>{
    const l=mk('line',{x1:x1,y1:y1,x2:x2,y2:y2},ticks);
    
    
  };
  for(let v=xMin;v<=xMax;v++){
    const major=v%5===0;
    const len=major?6:3;
    seg(sx(v),o.y+o.h,sx(v),o.y+o.h-len);
    seg(sx(v),o.y,sx(v),o.y+len);
  }
  const minorCount=Math.floor(o.yMax/o.yMinor+1e-6);
  for(let i=0;i<=minorCount;i++){
    const v=i*o.yMinor;
    const major=Math.abs(v/o.yMajor-Math.round(v/o.yMajor))<1e-6;
    const len=major?6:3;
    seg(o.x,sy(v),o.x+len,sy(v));
    seg(o.x+o.w,sy(v),o.x+o.w-len,sy(v));
  }
  drawFrame(g,o.x,o.y,o.w,o.h);
  o.yTicks.forEach(t=>{
    const lab=mk('text',{x:o.x-5,y:sy(t)+5.5,'text-anchor':'end'},g);
    lab.textContent=o.yDec?t.toFixed(o.yDec):String(t);
    
    
  });
  if(o.xLabels){
    histXTicks.forEach(t=>{
      const lab=mk('text',{x:sx(t),y:o.y+o.h+16,'text-anchor':'middle'},g);
      lab.textContent=fmtMinus(t,0);
      
      
    });
  }
}

// layout
const colX=[60,278.5,498];
const W=209,H=208;
const G1Y=[38,253.5,470.5];
const G2Y=[813,1029,1246];

const g1Centers={blr:g1Blr,wing:g1Wing,core:g1Core};
const g2Centers={blr:g2Blr,wing:g2Wing,core:g2Core};

const g1Maps=[[g1LightBlr,g1LightWing,g1LightCore],[g1ModelBlr,g1ModelWing,g1ModelCore],[g1ResBlr,g1ResWing,g1ResCore]];
const g2Maps=[[g2LightBlr,g2LightWing,g2LightCore],[g2ModelBlr,g2ModelWing,g2ModelCore],[g2ResBlr,g2ResWing,g2ResCore]];
const rowNames=['light','model','residual'];
const colNames=['blr','wing','core'];

function drawGroup(maps,ys,centers,x0s,y0,circles,tag){
  for(let r=0;r<3;r++){
    for(let c=0;c<3;c++){
      drawMap({
        name:tag+'-'+rowNames[r]+'-'+colNames[c]+'-map',
        grid:maps[r][c],
        ramp:r<2?lightRamp:resRamp,
        x:colX[c],y:ys[r],w:W,h:H,x0:x0s[c],y0:y0[r],
        centers:r<2?centers:null,
        circle:r===2?circles[c]:null,
        yLabels:c===0,
        xLabels:r===2
      });
    }
  }
}
drawGroup(g1Maps,G1Y,g1Centers,[101,101.5,101],[101,101.5,101.5],[g1Blr,g1Blr,g1Core],'top');
drawGroup(g2Maps,G2Y,g2Centers,[98.5,99.5,99.5],[109,110,109],[[0,0],[.02,0],[0,.03]],'bottom');

drawLightBar(712,137,20,324);
drawLightBar(712,913,20,324);
drawResBar(712,470.5,20,208);
drawResBar(712,1246,20,208);

drawHist({name:'top-wing-histogram',first:g1HistBlr,second:g1HistWing,secondName:'histogram-wing',fill:'rgba(0,0,0,.3)',x:828,y:154,w:348,h:253,yMax:16.8,yMajor:2.5,yMinor:.5,yTicks:g1TopYTicks,yDec:1,xLabels:false});
drawHist({name:'top-core-histogram',first:g1HistBlr,second:g1HistCore,secondName:'histogram-core',fill:'rgba(47,79,79,.5)',x:828,y:424,w:348,h:254,yMax:14.7,yMajor:2.5,yMinor:.5,yTicks:g1BottomYTicks,yDec:1,xLabels:true});
drawHist({name:'bottom-wing-histogram',first:g2HistBlr,second:g2HistWing,secondName:'histogram-wing',fill:'rgba(0,0,0,.3)',x:828,y:933,w:348,h:249,yMax:18.6,yMajor:5,yMinor:1,yTicks:g2YTicks,yDec:0,xLabels:false});
drawHist({name:'bottom-core-histogram',first:g2HistBlr,second:g2HistCore,secondName:'histogram-core',fill:'rgba(47,79,79,.5)',x:828,y:1199,w:348,h:255,yMax:18.85,yMajor:5,yMinor:1,yTicks:g2YTicks,yDec:0,xLabels:true});
</script>
</body>
</html>
